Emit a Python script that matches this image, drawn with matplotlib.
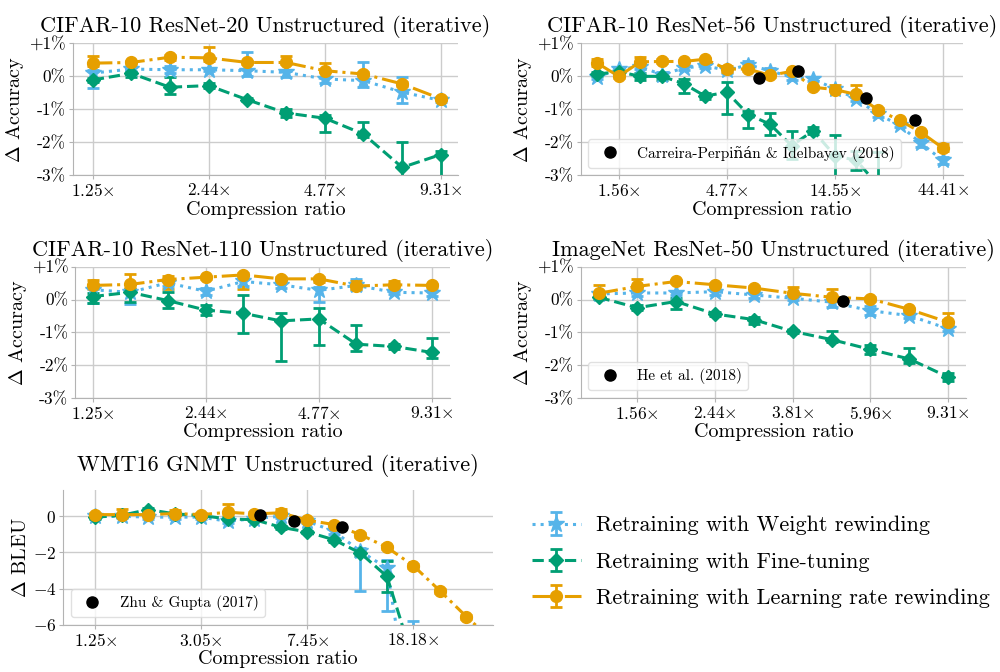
import matplotlib
matplotlib.use("Agg")
from matplotlib import pyplot as plt

plt.rcParams["font.family"] = ["cmr10", "DejaVu Serif"]
plt.rcParams["mathtext.fontset"] = "cm"
plt.rcParams["axes.unicode_minus"] = False
plt.rcParams["axes.formatter.use_mathtext"] = True

# compression ratios 1.25^k, k = 1..17
ratios = [1.25, 1.56, 1.95, 2.44, 3.05, 3.81, 4.77, 5.96, 7.45, 9.31,
          11.64, 14.55, 18.19, 22.74, 28.42, 35.53, 44.41]

labels = ["Retraining with Weight rewinding",
          "Retraining with Fine-tuning",
          "Retraining with Learning rate rewinding"]

acc_ticks = [-3, -2, -1, 0, 1]
acc_ticklabels = ["-3%", "-2%", "-1%", "0%", "+1%"]
bleu_ticks = [-6, -4, -2, 0]
bleu_ticklabels = ["$-6$", "$-4$", "$-2$", "$0$"]

# CIFAR-10 ResNet-20
r20_xticks = [1.25, 2.44, 4.77, 9.31]
r20_xlabels = ["1.25", "2.44", "4.77", "9.31"]
r20_wr = [0.10, 0.22, 0.20, 0.20, 0.17, 0.12, -0.08, -0.13, -0.48, -0.73]
r20_wr_lo = [0.45, 0.05, 0.10, 0.05, 0.15, 0.15, 0.12, 0.18, 0.33, 0.05]
r20_wr_hi = [0.10, 0.05, 0.10, 0.05, 0.58, 0.05, 0.05, 0.57, 0.45, 0.05]
r20_ft = [-0.11, 0.09, -0.33, -0.28, -0.71, -1.11, -1.27, -1.75, -2.76, -2.37]
r20_ft_lo = [0.05, 0.12, 0.20, 0.08, 0.05, 0.12, 0.43, 0.10, 0.30, 0.80]
r20_ft_hi = [0.05, 0.05, 0.30, 0.08, 0.05, 0.12, 0.10, 0.36, 0.78, 0.10]
r20_lr = [0.40, 0.42, 0.58, 0.56, 0.42, 0.42, 0.17, 0.07, -0.23, -0.68]
r20_lr_lo = [0.10, 0.05, 0.08, 0.10, 0.05, 0.05, 0.05, 0.05, 0.05, 0.05]
r20_lr_hi = [0.22, 0.05, 0.08, 0.32, 0.05, 0.20, 0.22, 0.05, 0.05, 0.05]

# CIFAR-10 ResNet-56
r56_xticks = [1.56, 4.77, 14.55, 44.41]
r56_xlabels = ["1.56", "4.77", "14.55", "44.41"]
r56_wr = [-0.02, 0.22, 0.29, 0.05, 0.25, 0.32, 0.18, 0.35, 0.17, -0.03,
          -0.08, -0.38, -0.68, -1.15, -1.48, -2.03, -2.55]
r56_wr_lo = [0.07, 0.07, 0.07, 0.07, 0.07, 0.07, 0.07, 0.12, 0.07, 0.07,
             0.07, 0.07, 0.07, 0.07, 0.07, 0.12, 0.10]
r56_wr_hi = [0.07, 0.07, 0.07, 0.07, 0.07, 0.07, 0.07, 0.12, 0.07, 0.07,
             0.07, 0.07, 0.07, 0.07, 0.07, 0.12, 0.10]
r56_ft = [0.07, 0.14, 0.0, 0.0, -0.22, -0.60, -0.48, -1.16, -1.45, -2.10,
          -1.65, -2.40, -2.55, -3.30]
r56_ft_lo = [0.05, 0.10, 0.10, 0.10, 0.30, 0.10, 0.65, 0.42, 0.33, 0.40,
             0.10, 0.70, 0.30, 1.00]
r56_ft_hi = [0.05, 0.10, 0.10, 0.10, 0.15, 0.10, 0.30, 0.10, 0.34, 0.45,
             0.10, 0.62, 0.30, 1.00]
r56_lr = [0.40, 0.0, 0.44, 0.45, 0.45, 0.52, 0.22, 0.22, 0.03, 0.15,
          -0.33, -0.40, -0.55, -1.02, -1.33, -1.70, -2.17]
r56_lr_lo = [0.08, 0.05, 0.05, 0.05, 0.05, 0.05, 0.10, 0.05, 0.05, 0.05,
             0.05, 0.05, 0.05, 0.05, 0.05, 0.05, 0.10]
r56_lr_hi = [0.12, 0.05, 0.16, 0.08, 0.05, 0.05, 0.10, 0.10, 0.05, 0.05,
             0.05, 0.13, 0.28, 0.05, 0.05, 0.05, 0.13]
cp_x = [6.67, 10.0, 20.0, 33.33]
cp_y = [-0.05, 0.17, -0.65, -1.33]
cp_label = "Carreira-Perpiñán & Idelbayev (2018)"

# CIFAR-10 ResNet-110
r110_xticks = [1.25, 2.44, 4.77, 9.31]
r110_xlabels = ["1.25", "2.44", "4.77", "9.31"]
r110_wr = [0.30, 0.22, 0.51, 0.25, 0.55, 0.45, 0.28, 0.43, 0.22, 0.20]
r110_wr_lo = [0.40, 0.35, 0.10, 0.10, 0.15, 0.10, 0.35, 0.15, 0.05, 0.10]
r110_wr_hi = [0.10, 0.10, 0.10, 0.10, 0.15, 0.10, 0.10, 0.20, 0.05, 0.10]
r110_ft = [0.09, 0.22, -0.03, -0.32, -0.42, -0.65, -0.59, -1.36, -1.43, -1.61]
r110_ft_lo = [0.20, 0.30, 0.23, 0.15, 0.60, 1.23, 0.80, 0.20, 0.08, 0.16]
r110_ft_hi = [0.10, 0.10, 0.27, 0.15, 0.57, 0.25, 0.32, 0.59, 0.08, 0.43]
r110_lr = [0.43, 0.46, 0.61, 0.68, 0.75, 0.63, 0.63, 0.41, 0.45, 0.43]
r110_lr_lo = [0.10, 0.10, 0.28, 0.05, 0.42, 0.05, 0.10, 0.10, 0.10, 0.05]
r110_lr_hi = [0.18, 0.33, 0.10, 0.05, 0.05, 0.05, 0.05, 0.15, 0.12, 0.05]

# ImageNet ResNet-50
r50_xticks = [1.56, 2.44, 3.81, 5.96, 9.31]
r50_xlabels = ["1.56", "2.44", "3.81", "5.96", "9.31"]
r50_wr = [0.17, 0.20, 0.20, 0.24, 0.14, 0.04, -0.08, -0.34, -0.49, -0.89]
r50_wr_lo = [0.05, 0.10, 0.05, 0.10, 0.08, 0.05, 0.15, 0.13, 0.08, 0.08]
r50_wr_hi = [0.05, 0.10, 0.05, 0.10, 0.08, 0.05, 0.10, 0.13, 0.08, 0.08]
r50_ft = [0.07, -0.25, -0.06, -0.44, -0.61, -0.97, -1.22, -1.52, -1.81, -2.36]
r50_ft_lo = [0.05, 0.08, 0.24, 0.05, 0.15, 0.05, 0.08, 0.13, 0.12, 0.13]
r50_ft_hi = [0.05, 0.08, 0.10, 0.05, 0.08, 0.05, 0.27, 0.13, 0.32, 0.13]
r50_lr = [0.19, 0.40, 0.55, 0.45, 0.35, 0.19, 0.07, 0.02, -0.30, -0.69]
r50_lr_lo = [0.10, 0.08, 0.05, 0.05, 0.05, 0.08, 0.10, 0.05, 0.05, 0.10]
r50_lr_hi = [0.24, 0.23, 0.05, 0.05, 0.05, 0.18, 0.25, 0.05, 0.05, 0.28]
he_x = [5.1]
he_y = [-0.03]
he_label = "He et al. (2018)"

# WMT16 GNMT (BLEU)
gnmt_xticks = [1.25, 3.05, 7.45, 18.19]
gnmt_xlabels = ["1.25", "3.05", "7.45", "18.18"]
gnmt_wr = [0.0, 0.0, -0.05, -0.05, -0.05, -0.28, -0.13, 0.0, -0.28, -0.83,
           -1.94, -2.87, -12.0]
gnmt_wr_lo = [0.10, 0.10, 0.10, 0.10, 0.10, 0.10, 0.10, 0.10, 0.10, 0.15,
              2.20, 2.40, 6.20]
gnmt_wr_hi = [0.10, 0.10, 0.10, 0.10, 0.10, 0.10, 0.10, 0.10, 0.10, 0.15,
              0.20, 0.46, 6.20]
gnmt_ft = [-0.05, 0.05, 0.37, 0.13, 0.04, -0.15, -0.19, -0.61, -0.87, -1.30,
           -2.04, -3.33, -8.0]
gnmt_ft_lo = [0.08, 0.08, 0.08, 0.08, 0.08, 0.08, 0.08, 0.08, 0.08, 0.10,
              0.15, 0.85, 0.50]
gnmt_ft_hi = [0.08, 0.08, 0.08, 0.08, 0.08, 0.08, 0.08, 0.08, 0.08, 0.10,
              0.15, 0.85, 0.50]
gnmt_lr = [0.09, 0.09, 0.09, 0.15, 0.09, 0.22, 0.13, 0.19, -0.22, -0.46,
           -1.02, -1.72, -2.74, -4.13, -5.56, -6.90]
gnmt_lr_lo = [0.10, 0.10, 0.10, 0.10, 0.10, 0.10, 0.10, 0.10, 0.10, 0.10,
              0.12, 0.10, 0.10, 0.12, 0.10, 0.10]
gnmt_lr_hi = [0.10, 0.30, 0.10, 0.22, 0.10, 0.47, 0.10, 0.20, 0.10, 0.10,
              0.12, 0.10, 0.10, 0.12, 0.10, 0.10]
zg_x = [5.0, 6.67, 10.0]
zg_y = [0.09, -0.24, -0.61]
zg_label = "Zhu & Gupta (2017)"

blue = "#56B4E9"
green = "#009E73"
orange = "#E69F00"


def curves(ax, wr, wr_lo, wr_hi, ft, ft_lo, ft_hi, lr, lr_lo, lr_hi):
    out = []
    for y, lo, hi, c, m, ls, ms, lab in [
            (wr, wr_lo, wr_hi, blue, "*", ":", 12, labels[0]),
            (ft, ft_lo, ft_hi, green, "D", "--", 7.5, labels[1]),
            (lr, lr_lo, lr_hi, orange, "o", "-.", 8.5, labels[2])]:
        h = ax.errorbar(ratios[:len(y)], y, yerr=[lo, hi], color=c, marker=m,
                        ls=ls, lw=2.2, ms=ms, capsize=4, capthick=2,
                        elinewidth=2, label=lab)
        out.append(h)
    return out


def setup(ax, title, xticks, xlabels, xlim, title_y=None):
    ax.set_xscale("log")
    ax.set_xlim(xlim)
    ax.minorticks_off()
    ax.set_xticks(xticks)
    ax.set_xticklabels([s + r"$\times$" for s in xlabels])
    ax.set_title(title, fontsize=16, pad=8, y=title_y)
    ax.set_xlabel("Compression ratio", fontsize=14.5, labelpad=1)
    ax.grid(True, color="0.8", lw=1)
    ax.set_axisbelow(True)
    ax.spines["top"].set_visible(False)
    ax.spines["right"].set_visible(False)
    ax.spines["left"].set_color("0.7")
    ax.spines["bottom"].set_color("0.7")
    ax.tick_params(length=3, color="0.7", labelsize=12.5, pad=2)


def acc_axis(ax):
    ax.set_ylim(-3, 1)
    ax.set_yticks(acc_ticks)
    ax.set_yticklabels(acc_ticklabels)
    ax.set_ylabel(r"$\Delta$ Accuracy", fontsize=14.5, labelpad=2)


def ref_points(ax, x, y, lab):
    h, = ax.plot(x, y, "o", color="black", ms=8, zorder=10, label=lab)
    ax.legend(handles=[h], loc="lower left", fontsize=11, framealpha=0.8,
              edgecolor="0.85")


fig = plt.figure(figsize=(10, 6.72), dpi=100)

ax1 = fig.add_axes([0.0727, 0.7391, 0.3856, 0.1964])
handles = curves(ax1, r20_wr, r20_wr_lo, r20_wr_hi, r20_ft, r20_ft_lo,
                 r20_ft_hi, r20_lr, r20_lr_lo, r20_lr_hi)
setup(ax1, "CIFAR-10 ResNet-20 Unstructured (iterative)", r20_xticks,
      r20_xlabels, (1.113, 10.30))
acc_axis(ax1)

ax2 = fig.add_axes([0.5807, 0.7391, 0.3823, 0.1964])
curves(ax2, r56_wr, r56_wr_lo, r56_wr_hi, r56_ft, r56_ft_lo, r56_ft_hi,
       r56_lr, r56_lr_lo, r56_lr_hi)
ref_points(ax2, cp_x, cp_y, cp_label)
setup(ax2, "CIFAR-10 ResNet-56 Unstructured (iterative)", r56_xticks,
      r56_xlabels, (1.053, 54.75))
acc_axis(ax2)

ax3 = fig.add_axes([0.0753, 0.4077, 0.3750, 0.1954])
curves(ax3, r110_wr, r110_wr_lo, r110_wr_hi, r110_ft, r110_ft_lo, r110_ft_hi,
       r110_lr, r110_lr_lo, r110_lr_hi)
setup(ax3, "CIFAR-10 ResNet-110 Unstructured (iterative)", r110_xticks,
      r110_xlabels, (1.128, 10.39))
acc_axis(ax3)

ax4 = fig.add_axes([0.5807, 0.4077, 0.3853, 0.1954])
curves(ax4, r50_wr, r50_wr_lo, r50_wr_hi, r50_ft, r50_ft_lo, r50_ft_hi,
       r50_lr, r50_lr_lo, r50_lr_hi)
ref_points(ax4, he_x, he_y, he_label)
setup(ax4, "ImageNet ResNet-50 Unstructured (iterative)", r50_xticks,
      r50_xlabels, (1.128, 10.32))
acc_axis(ax4)

ax5 = fig.add_axes([0.0633, 0.0704, 0.4297, 0.2004])
curves(ax5, gnmt_wr, gnmt_wr_lo, gnmt_wr_hi, gnmt_ft, gnmt_ft_lo, gnmt_ft_hi,
       gnmt_lr, gnmt_lr_lo, gnmt_lr_hi)
ref_points(ax5, zg_x, zg_y, zg_label)
setup(ax5, "WMT16 GNMT Unstructured (iterative)", gnmt_xticks, gnmt_xlabels,
      (0.954, 35.53), title_y=1.06)
ax5.set_ylim(-6, 1.45)
ax5.set_yticks(bleu_ticks)
ax5.set_yticklabels(bleu_ticklabels)
ax5.set_ylabel(r"$\Delta$ BLEU", fontsize=14.5, labelpad=2)

fig.legend(handles, labels, loc="center left", bbox_to_anchor=(0.512, 0.164),
           frameon=False, fontsize=16, handlelength=2.2, handletextpad=0.7,
           labelspacing=0.75)

fig.savefig("out.png", dpi=100)
